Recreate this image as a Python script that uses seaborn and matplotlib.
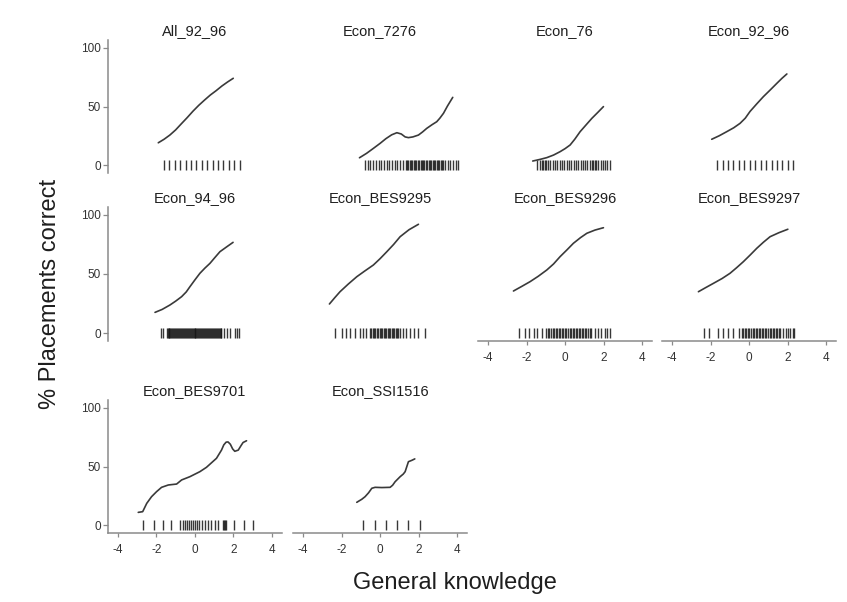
import matplotlib
matplotlib.use("Agg")
import matplotlib.pyplot as plt
import seaborn as sns

# ---- panels -------------------------------------------------------------
panel_names = ["All_92_96", "Econ_7276", "Econ_76", "Econ_92_96",
               "Econ_94_96", "Econ_BES9295", "Econ_BES9296", "Econ_BES9297",
               "Econ_BES9701", "Econ_SSI1516"]

# smoothed share of correct placements (y) against general knowledge (x)
all_92_96_x = [-1.90, -1.60, -1.30, -1.00, -0.70, -0.40, -0.10, 0.20, 0.50, 0.80, 1.10, 1.40, 1.70, 1.99]
all_92_96_y = [19.0, 22.0, 25.6, 30.0, 35.3, 40.5, 46.0, 51.0, 55.5, 59.8, 63.5, 67.5, 71.0, 74.1]
all_92_96_rug = [-1.60, -1.32, -1.04, -0.76, -0.48, -0.20, 0.08, 0.36, 0.64, 0.92, 1.20, 1.48, 1.76, 2.04, 2.32]

econ_7276_x = [-1.07, -0.70, -0.35, 0.00, 0.30, 0.60, 0.87, 1.10, 1.30, 1.47, 1.70, 1.99, 2.20, 2.42, 2.70, 2.94, 3.10, 3.29, 3.50, 3.77]
econ_7276_y = [6.2, 10.0, 14.2, 18.5, 22.5, 25.8, 27.6, 26.5, 24.0, 23.4, 24.0, 25.6, 28.2, 31.3, 34.5, 37.0, 40.0, 44.2, 50.5, 57.8]
econ_7276_rug = [-0.78, -0.64, -0.50, -0.36, -0.22, -0.08, 0.06, 0.20, 0.34, 0.48, 0.62, 0.76, 0.90,
                 1.04, 1.18, 1.32, 1.40, 1.46, 1.54, 1.60, 1.68, 1.74, 1.82, 1.88, 1.96, 2.02, 2.10,
                 2.16, 2.24, 2.30, 2.38, 2.44, 2.52, 2.58, 2.66, 2.72, 2.80, 2.86, 2.94, 3.00, 3.08,
                 3.14, 3.22, 3.28, 3.36, 3.50, 3.64, 3.78, 3.92, 4.02]

econ_76_x = [-1.68, -1.30, -0.95, -0.60, -0.26, 0.00, 0.26, 0.50, 0.78, 1.10, 1.39, 1.70, 1.99]
econ_76_y = [3.4, 4.8, 6.3, 8.5, 11.4, 14.0, 17.1, 22.0, 28.5, 34.5, 39.9, 45.0, 49.9]
econ_76_rug = [-1.44, -1.32, -1.22, -1.14, -1.06, -0.98, -0.88, -0.76, -0.64, -0.52, -0.40, -0.28,
               -0.16, -0.04, 0.08, 0.20, 0.32, 0.44, 0.56, 0.68, 0.80, 0.92, 1.04, 1.16, 1.28, 1.38,
               1.46, 1.54, 1.62, 1.72, 1.84, 1.96, 2.08, 2.20, 2.34]

econ_92_96_x = [-1.94, -1.55, -1.16, -0.80, -0.47, -0.20, 0.05, 0.40, 0.74, 1.10, 1.44, 1.70, 1.96]
econ_92_96_y = [22.0, 25.0, 28.5, 31.8, 35.6, 40.0, 45.8, 52.3, 58.4, 64.2, 69.8, 74.0, 77.8]
econ_92_96_rug = [-1.65, -1.37, -1.09, -0.81, -0.52, -0.24, 0.04, 0.32, 0.60, 0.88, 1.17, 1.45, 1.73, 2.01, 2.29]

econ_94_96_x = [-2.07, -1.70, -1.30, -1.00, -0.69, -0.45, -0.26, 0.00, 0.26, 0.52, 0.78, 1.04, 1.30, 1.65, 1.98]
econ_94_96_y = [17.5, 20.0, 23.7, 27.0, 30.8, 34.8, 39.2, 45.0, 50.6, 55.0, 59.0, 64.0, 68.9, 73.0, 76.8]
econ_94_96_rug = [-1.76, -1.64, -1.47, -1.42, -1.37, -1.32, -1.27, -1.22, -1.17, -1.12, -1.07, -1.02, -0.97,
                  -0.92, -0.87, -0.82, -0.77, -0.72, -0.67, -0.62, -0.57, -0.52, -0.47, -0.42, -0.37,
                  -0.32, -0.27, -0.22, -0.17, -0.12, -0.07, -0.02, 0.03, 0.08, 0.13, 0.18, 0.23, 0.28,
                  0.33, 0.38, 0.43, 0.48, 0.53, 0.58, 0.63, 0.68, 0.73, 0.78, 0.83, 0.88, 0.93, 0.98,
                  1.03, 1.08, 1.13, 1.18, 1.23, 1.28, 1.33, 1.38, 1.50, 1.67, 1.81, 2.07, 2.19, 2.30]

econ_bes9295_x = [-2.63, -2.35, -2.08, -1.65, -1.21, -0.80, -0.35, 0.00, 0.35, 0.70, 1.04, 1.50, 1.99]
econ_bes9295_y = [24.6, 30.0, 35.0, 41.5, 47.7, 52.5, 57.6, 63.0, 68.9, 75.0, 81.6, 87.5, 92.1]
econ_bes9295_rug = [-2.32, -1.97, -1.75, -1.57, -1.31, -1.05, -0.88, -0.71, -0.55, -0.45, -0.38, -0.31,
                    -0.24, -0.17, -0.10, -0.03, 0.04, 0.11, 0.18, 0.25, 0.32, 0.39, 0.46, 0.53, 0.60,
                    0.67, 0.74, 0.81, 0.88, 0.95, 1.02, 1.19, 1.36, 1.54, 1.77, 1.97, 2.32]

econ_bes9296_x = [-2.68, -2.25, -1.82, -1.40, -0.95, -0.60, -0.26, 0.10, 0.43, 0.80, 1.13, 1.55, 1.99]
econ_bes9296_y = [35.6, 39.5, 43.5, 48.0, 53.4, 58.5, 64.7, 70.5, 76.0, 80.8, 84.5, 87.2, 89.2]
econ_bes9296_rug = [-2.37, -2.08, -1.85, -1.64, -1.44, -1.21, -0.99, -0.89, -0.81, -0.73, -0.65, -0.57,
                    -0.49, -0.41, -0.33, -0.25, -0.17, -0.09, -0.01, 0.07, 0.15, 0.23, 0.31, 0.39,
                    0.47, 0.55, 0.63, 0.71, 0.79, 0.87, 0.95, 1.03, 1.11, 1.19, 1.27, 1.35, 1.56,
                    1.72, 1.85, 2.05, 2.17, 2.33]

econ_bes9297_x = [-2.63, -2.25, -1.85, -1.40, -0.99, -0.65, -0.30, 0.05, 0.40, 0.75, 1.09, 1.55, 2.01]
econ_bes9297_y = [35.0, 38.5, 42.1, 46.2, 50.6, 55.3, 60.4, 66.0, 71.8, 77.0, 81.6, 85.0, 87.9]
econ_bes9297_rug = [-2.34, -2.06, -1.59, -1.33, -1.07, -0.81, -0.55, -0.38, -0.30, -0.22, -0.14, -0.06,
                    0.02, 0.10, 0.18, 0.26, 0.34, 0.42, 0.50, 0.58, 0.66, 0.74, 0.82, 0.90, 0.98, 1.06,
                    1.14, 1.22, 1.30, 1.38, 1.46, 1.54, 1.62, 1.78, 1.90, 2.02, 2.14, 2.26, 2.35]

econ_bes9701_x = [-2.94, -2.71, -2.50, -2.25, -1.99, -1.73, -1.38, -0.95, -0.69, -0.26, 0.26, 0.60,
                  1.12, 1.38, 1.50, 1.62, 1.72, 1.84, 1.96, 2.07, 2.25, 2.40, 2.50, 2.68]
econ_bes9701_y = [10.8, 11.4, 18.5, 24.2, 28.5, 32.2, 34.2, 35.0, 38.5, 41.3, 45.6, 49.3,
                  57.0, 64.0, 68.5, 70.8, 71.0, 69.0, 65.0, 63.0, 64.0, 68.0, 70.5, 72.0]
econ_bes9701_rug = [-2.68, -2.13, -1.67, -1.23, -0.78, -0.60, -0.52, -0.43, -0.33, -0.22, -0.12, -0.02,
                    0.09, 0.22, 0.36, 0.52, 0.69, 0.86, 1.04, 1.21, 1.47, 1.52, 1.56, 1.60, 2.04, 2.54, 3.02]

econ_ssi1516_x = [-1.21, -0.95, -0.78, -0.60, -0.43, -0.26, 0.09, 0.52, 0.65, 0.78, 1.04, 1.20, 1.30, 1.47, 1.65, 1.80]
econ_ssi1516_y = [19.4, 22.0, 24.2, 27.5, 31.4, 32.2, 32.0, 32.2, 34.0, 37.0, 41.3, 43.5, 45.6, 54.1, 55.3, 56.5]
econ_ssi1516_rug = [-0.87, -0.26, 0.31, 0.90, 1.47, 2.08]

curves_x = [all_92_96_x, econ_7276_x, econ_76_x, econ_92_96_x, econ_94_96_x, econ_bes9295_x,
            econ_bes9296_x, econ_bes9297_x, econ_bes9701_x, econ_ssi1516_x]
curves_y = [all_92_96_y, econ_7276_y, econ_76_y, econ_92_96_y, econ_94_96_y, econ_bes9295_y,
            econ_bes9296_y, econ_bes9297_y, econ_bes9701_y, econ_ssi1516_y]
rugs = [all_92_96_rug, econ_7276_rug, econ_76_rug, econ_92_96_rug, econ_94_96_rug, econ_bes9295_rug,
        econ_bes9296_rug, econ_bes9297_rug, econ_bes9701_rug, econ_ssi1516_rug]

y_ticks = [0, 50, 100]
x_ticks = [-4, -2, 0, 2, 4]
x_label = "General knowledge"
y_label = "% Placements correct"

# ---- styling ------------------------------------------------------------
sns.set_style("white")
plt.rcParams["font.family"] = ["Liberation Sans", "DejaVu Sans"]
plt.rcParams["axes.unicode_minus"] = False

W, H = 847, 602
fig = plt.figure(figsize=(W / 100, H / 100), dpi=100)

col_left = [108.2, 293.4, 478.4, 662.4]
col_width = 173.4
row_span = [(39.8, 173.2), (206.7, 341.3), (399.8, 533.2)]

spine_col = "#8a8a8a"
line_col = "#3a3a3a"
text_col = "#1e1e1e"

# panels that carry the x axis (bottom of each column)
x_axis_panels = {6, 7, 8, 9}

for i, name in enumerate(panel_names):
    r, c = divmod(i, 4)
    top, bot = row_span[r]
    ax = fig.add_axes([col_left[c] / W, 1 - bot / H, col_width / W, (bot - top) / H])
    ax.set_facecolor("none")

    sns.lineplot(x=curves_x[i], y=curves_y[i], ax=ax, color=line_col, linewidth=1.2,
                 errorbar=None)
    sns.scatterplot(x=rugs[i], y=[0] * len(rugs[i]), ax=ax, marker="|", s=46,
                    linewidth=1.0, color="#151515", alpha=0.85)

    ax.set_xlim(-4.5, 4.5)
    ax.set_ylim(-7, 107)
    ax.set_xlabel("")
    ax.set_ylabel("")
    ax.set_title(name, fontsize=10.5, color=text_col, pad=3.4)

    for s in ["top", "right"]:
        ax.spines[s].set_visible(False)
    for s in ["left", "bottom"]:
        ax.spines[s].set_color(spine_col)
        ax.spines[s].set_linewidth(1.1)

    if c == 0:
        ax.set_yticks(y_ticks)
        ax.tick_params(axis="y", length=3.6, width=0.9, color=spine_col, pad=1.5,
                       labelsize=8.5, labelcolor="#333333", left=True)
    else:
        ax.spines["left"].set_visible(False)
        ax.set_yticks([])

    if i in x_axis_panels:
        ax.set_xticks(x_ticks)
        ax.tick_params(axis="x", length=3.2, width=0.9, color=spine_col, pad=4.5,
                       labelsize=8.5, labelcolor="#333333", bottom=True)
    else:
        ax.spines["bottom"].set_visible(False)
        ax.set_xticks([])

fig.text(455 / W, 1 - 583 / H, x_label, ha="center", va="center", fontsize=17, color=text_col)
fig.text(50 / W, 1 - 294 / H, y_label, ha="center", va="center", rotation=90,
         fontsize=17, color=text_col)

fig.savefig("out.png", dpi=100, facecolor="white")
